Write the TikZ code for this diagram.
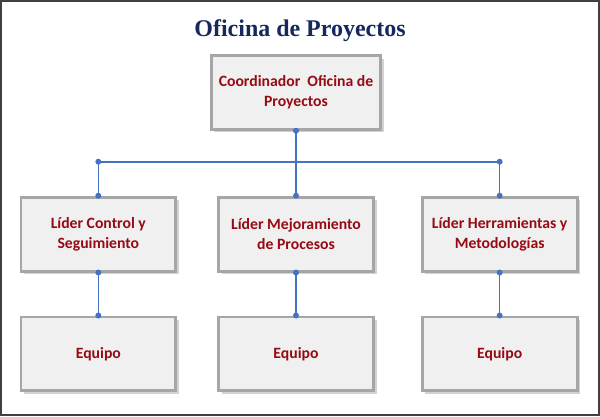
\documentclass[tikz,border=0pt]{standalone}
\usepackage{fontspec}
\setmainfont{Carlito}
\newfontfamily\titlefont{Liberation Serif}
\usetikzlibrary{positioning, shadows}
\definecolor{titleblue}{RGB}{22,40,92}
\definecolor{boxred}{RGB}{150,10,20}
\definecolor{linkblue}{RGB}{70,114,196}
\tikzset{
  orgbox/.style={draw=gray!70, line width=2.2pt, fill=gray!12, minimum width=116.25pt, minimum height=55.5pt,
    align=center, font=\bfseries\fontsize{11.8pt}{15pt}\selectfont, text=boxred, drop shadow={opacity=0.35}},
  link/.style={draw=linkblue, line width=1.2pt},
  dot/.style={circle, fill=linkblue, inner sep=0pt, minimum size=4.5pt}
}
\begin{document}
\begin{tikzpicture}[x=0.75pt, y=-0.75pt]
    \draw [line width=1.5pt, black!75, fill=white] (0.5,0.5) rectangle (599.5,415.5);
    \node [font=\titlefont\bfseries\fontsize{18pt}{21pt}\selectfont, text=titleblue] (title) at (300,30) {Oficina de Proyectos};

    \node [orgbox, minimum width=127.5pt] (coord) at (296,92) {Coordinador\ \ Oficina de\\Proyectos};

    \node [orgbox] (lider1) at (98,234) {Líder Control y\\Seguimiento};
    \node [orgbox] (lider2) at (296,234) {Líder Mejoramiento\\de Procesos};
    \node [orgbox] (lider3) at (500,234) {Líder Herramientas y\\Metodologías};

    \node [orgbox] (equipo1) at (98,354) {Equipo};
    \node [orgbox] (equipo2) at (296,354) {Equipo};
    \node [orgbox] (equipo3) at (500,354) {Equipo};

    \coordinate (busl) at (98,161.5);
    \coordinate (busr) at (500,161.5);
    \coordinate (busm) at (296,161.5);

    \draw [link] (busl) -- (busr);
    \draw [link] (coord.south) -- (busm) -- (lider2.north);
    \draw [link] (busl) -- (lider1.north);
    \draw [link] (busr) -- (lider3.north);
    \foreach \i in {1,2,3} {
        \draw [link] (lider\i.south) -- (equipo\i.north);
        \node [dot] at (lider\i.north) {};
        \node [dot] at (lider\i.south) {};
        \node [dot] at (equipo\i.north) {};
    }
    \node [dot] at (coord.south) {};
    \node [dot] at (busl) {};
    \node [dot] at (busr) {};
\end{tikzpicture}
\end{document}
